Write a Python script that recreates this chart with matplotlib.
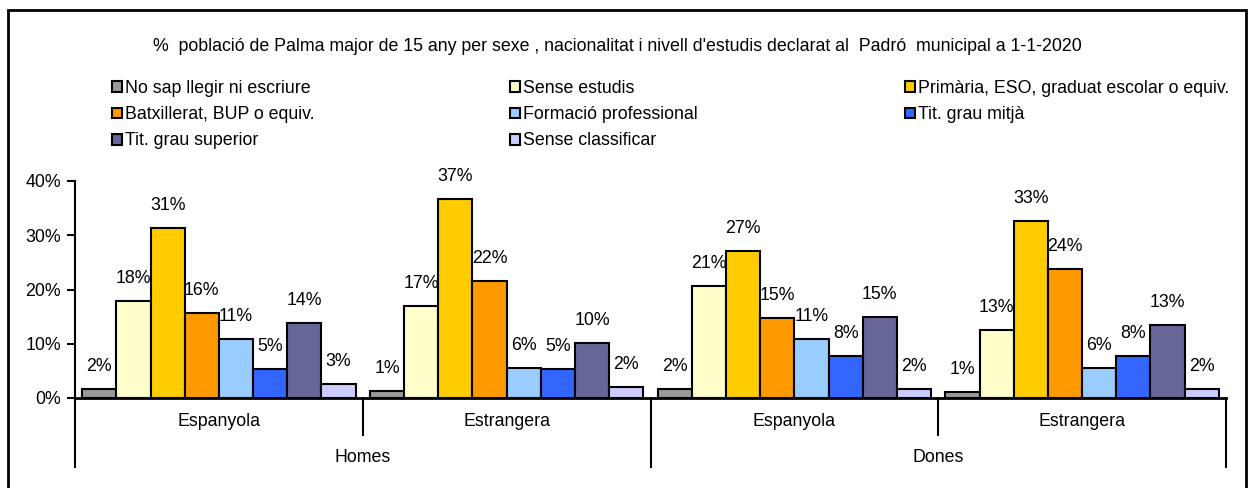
import matplotlib.pyplot as plt
import matplotlib.patches as mpatches
import numpy as np

plt.rcParams['font.family'] = ['Liberation Sans', 'DejaVu Sans']
FS = 12.8

title = ("%  població de Palma major de 15 any per sexe , nacionalitat i nivell "
         "d'estudis declarat al  Padró  municipal a 1-1-2020")

categories = ['Espanyola', 'Estrangera', 'Espanyola', 'Estrangera']
groups = ['Homes', 'Dones']

series = ['No sap llegir ni escriure', 'Sense estudis',
          'Primària, ESO, graduat escolar o equiv.', 'Batxillerat, BUP o equiv.',
          'Formació professional', 'Tit. grau mitjà', 'Tit. grau superior',
          'Sense classificar']

no_sap = [1.7, 1.2, 1.6, 1.1]
sense_estudis = [17.8, 17.0, 20.6, 12.6]
primaria = [31.3, 36.7, 27.1, 32.7]
batxillerat = [15.6, 21.6, 14.7, 23.8]
formacio = [10.9, 5.6, 10.9, 5.6]
grau_mitja = [5.3, 5.3, 7.8, 7.8]
grau_superior = [13.9, 10.1, 14.9, 13.4]
sense_classificar = [2.6, 2.0, 1.7, 1.7]

values = [no_sap, sense_estudis, primaria, batxillerat, formacio,
          grau_mitja, grau_superior, sense_classificar]
colors = ['#999999', '#FFFFCC', '#FFCC00', '#FF9900', '#99CCFF',
          '#3366FF', '#666699', '#CCCCFF']

W, H = 1252, 488
fig = plt.figure(figsize=(W / 100, H / 100), dpi=100)

# outer frame (bottom edge cut off like the original)
fig.patches.append(mpatches.Rectangle((8 / W, -0.05), (1246 - 8) / W, 1.05 - 10 / H,
                                      transform=fig.transFigure, fill=False,
                                      edgecolor='black', linewidth=2))

ax = fig.add_axes([75 / W, 1 - 398 / H, (1226 - 75) / W, (398 - 181) / H])

x = np.arange(len(categories))
n = len(series)
bw = 0.95 / n
bars = []
for i, (vals, col) in enumerate(zip(values, colors)):
    pos = x - 0.475 + bw * (i + 0.5)
    b = ax.bar(pos, vals, bw, color=col, edgecolor='black', linewidth=1.5,
               label=series[i])
    bars.append(b)
    for p, v in zip(pos, vals):
        ax.annotate(f'{v:.0f}%', (p, v), xytext=(0, 14), textcoords='offset pixels',
                    ha='center', va='bottom', fontsize=FS)

ax.set_xlim(-0.5, 3.5)
ax.set_ylim(0, 40)
ax.set_yticks([0, 10, 20, 30, 40])
ax.set_yticklabels(['0%', '10%', '20%', '30%', '40%'], fontsize=FS)
ax.tick_params(axis='y', direction='out', length=6, width=1.5, pad=4)
ax.set_xticks([])
for s in ['top', 'right']:
    ax.spines[s].set_visible(False)
ax.spines['left'].set_linewidth(1.5)
ax.spines['bottom'].set_linewidth(2)

# hierarchical category axis
trans = ax.get_xaxis_transform()
for xs in [-0.5, 1.5, 3.5]:
    ax.plot([xs, xs], [0, -0.318], color='black', lw=1.5, transform=trans, clip_on=False)
for xs in [0.5, 2.5]:
    ax.plot([xs, xs], [0, -0.17], color='black', lw=1.5, transform=trans, clip_on=False)
for xi, c in zip(x, categories):
    ax.text(xi, -0.108, c, transform=trans, ha='center', va='center', fontsize=FS)
for gi, g in enumerate(groups):
    ax.text(0.5 + 2 * gi, -0.274, g, transform=trans, ha='center', va='center',
            fontsize=FS)

fig.text(617 / W, 1 - 51 / H, title, ha='center', va='baseline', fontsize=FS)

# legend: three columns placed like the original
cols = [[0, 3, 6], [1, 4, 7], [2, 5]]
col_x = [112, 510, 905]
for cx, idx in zip(col_x, cols):
    fig.legend([bars[i] for i in idx], [series[i] for i in idx],
               loc='upper left', bbox_to_anchor=(cx / W, 1 - 80 / H),
               frameon=False, fontsize=FS, handlelength=0.55, handleheight=0.55,
               handletextpad=0.2, labelspacing=0.52, borderpad=0, borderaxespad=0)

fig.savefig('out.png', dpi=100)
